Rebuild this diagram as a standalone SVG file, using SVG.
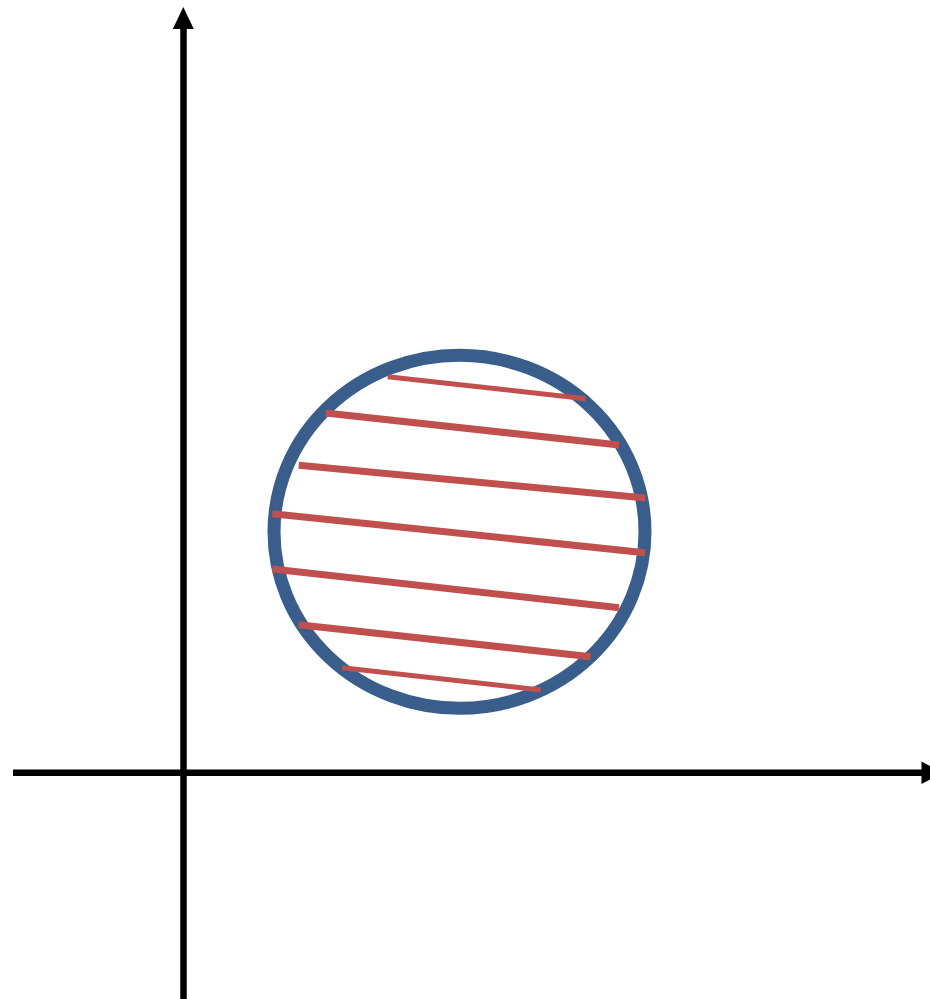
<svg xmlns="http://www.w3.org/2000/svg" width="930" height="999" viewBox="0 0 930 999">
<style>
.axis{stroke:#000;stroke-width:6.5;fill:none}
.head{fill:#000}
.hatch{stroke:#c0504d;stroke-linecap:butt}
.thin{stroke-width:5}
.thick{stroke-width:7}
</style>
<rect width="930" height="999" fill="#fff"/>
<g id="axes">
<line class="axis" x1="183.5" y1="999" x2="183.5" y2="26"/>
<polygon class="head" points="183.3,7 172.8,29 193.8,29"/>
<line class="axis" x1="13" y1="772.7" x2="924" y2="772.7"/>
<polygon class="head" points="943,772.7 921.5,761.5 921.5,784"/>
</g>
<g id="circle">
<ellipse cx="459.5" cy="531.8" rx="185.5" ry="176.5" fill="none" stroke="#395e8b" stroke-width="13"/>
</g>
<g id="hatching">
<line class="hatch thin" x1="387.7" y1="376.7" x2="585.7" y2="398.7"/>
<line class="hatch thick" x1="325.7" y1="413" x2="619" y2="445"/>
<line class="hatch thick" x1="298.7" y1="465.3" x2="645.3" y2="498"/>
<line class="hatch thick" x1="272.3" y1="513.7" x2="645" y2="552.7"/>
<line class="hatch thick" x1="272.3" y1="569" x2="619" y2="607.7"/>
<line class="hatch thick" x1="298.7" y1="624.7" x2="590.7" y2="656.7"/>
<line class="hatch thin" x1="342.3" y1="667.7" x2="540.7" y2="690"/>
</g>
</svg>
